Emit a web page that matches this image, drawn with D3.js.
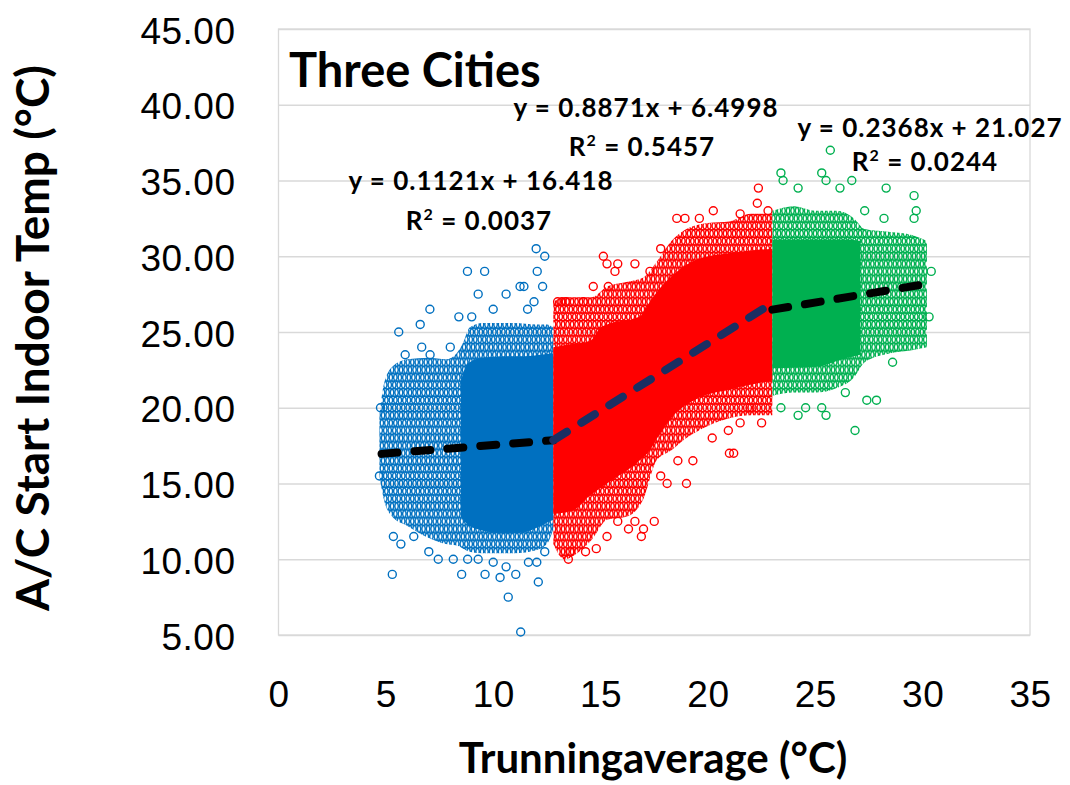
<!DOCTYPE html>
<html lang="en">
<head>
  <meta charset="UTF-8"/>
  <title>Three Cities</title>
  <script src="https://d3js.org/d3.v7.min.js"></script>
  <style>
    body { margin: 0; background: #fff; }
    svg { display: block; font-family: Lato, "Open Sans", sans-serif; }
    .grid line { stroke: #d9d9d9; stroke-width: 1.3; }
    .grid path, .axis path { display: none; }
    .axis text { fill: #000; font-size: 37px; letter-spacing: 0.5px; }
    .eq { font-weight: bold; font-size: 26px; text-anchor: middle; letter-spacing: 1px; }
    .title { font-weight: bold; }
  </style>
</head>
<body>
<svg width="1070" height="785"></svg>
<script>
  const xTicks = [0, 5, 10, 15, 20, 25, 30, 35];
  const yTicks = [5, 10, 15, 20, 25, 30, 35, 40, 45];

  // blue (cool city): textured band, solid core, loose points
  const blueHaloX  = [4.7, 4.9, 5.3, 6.0, 7.0, 7.8, 8.3, 8.6, 8.9, 9.5, 11.0, 12.0, 12.5, 12.8];
  const blueHaloLo = [15.5, 14.0, 12.8, 12.2, 11.4, 11.0, 10.9, 10.7, 10.5, 10.4, 10.4, 10.6, 11.0, 12.0];
  const blueHaloHi = [19.5, 21.5, 22.7, 23.2, 23.3, 23.2, 23.6, 24.3, 25.3, 25.6, 25.6, 25.5, 25.5, 25.3];
  const blueCoreX  = [8.5, 8.8, 9.5, 10.5, 11.5, 12.2, 12.8];
  const blueCoreLo = [12.8, 12.3, 11.9, 11.7, 11.8, 12.2, 12.6];
  const blueCoreHi = [21.8, 22.9, 23.3, 23.4, 23.4, 23.5, 23.6];
  const bluePts = [
    [12.0, 30.5], [12.4, 30.0], [8.8, 29.0], [9.6, 29.0], [12.05, 29.0], [7.05, 26.5],
    [6.6, 25.5], [5.6, 25.0], [8.4, 26.0], [9.3, 27.5], [10.6, 27.5], [11.25, 28.0],
    [11.43, 28.0], [12.3, 28.0], [6.67, 24.0], [7.06, 23.5], [5.35, 11.5], [5.7, 11.0],
    [5.3, 9.0], [8.53, 9.0], [9.62, 9.0], [10.32, 8.8], [11.05, 9.0], [12.1, 8.5],
    [10.7, 7.5], [11.28, 5.2], [7.44, 10.0], [8.14, 10.0], [8.81, 10.0], [11.64, 9.8],
    [12.03, 9.8], [4.75, 20.0], [4.7, 15.5], [5.9, 23.5], [8.0, 24.0], [9.0, 26.0],
    [10.0, 26.5], [11.6, 26.5], [11.9, 27.0], [6.3, 11.5], [7.0, 10.5], [9.3, 10.0],
    [10.0, 9.8], [10.6, 9.5], [12.4, 10.5]
  ];

  // red (mild city)
  const redHaloX  = [12.8, 13.3, 14.0, 14.6, 15.3, 16.2, 17.0, 17.6, 18.3, 19.0, 20.0, 21.0, 22.0, 23.0];
  const redHaloLo = [11.0, 10.0, 10.5, 11.3, 12.6, 12.8, 14.0, 16.5, 17.2, 18.0, 18.8, 19.3, 19.5, 19.5];
  const redHaloHi = [27.0, 27.3, 27.3, 27.3, 28.0, 28.3, 28.6, 29.6, 31.0, 31.8, 32.2, 32.3, 32.8, 32.8];
  const redCoreX  = [12.8, 13.7, 14.5, 15.0, 15.3, 16.8, 17.3, 17.6, 18.4, 19.5, 21.0, 23.0];
  const redCoreLo = [13.0, 13.2, 14.2, 14.7, 15.0, 16.5, 17.2, 17.9, 19.5, 20.6, 21.2, 21.8];
  const redCoreHi = [24.0, 24.2, 24.4, 25.3, 25.5, 26.0, 27.0, 27.6, 28.8, 29.8, 30.2, 30.5];
  const redPts = [
    [13.0, 27.0], [13.2, 27.0], [13.4, 27.0], [14.2, 27.0], [14.66, 28.0], [15.36, 28.0],
    [15.13, 30.0], [15.3, 29.5], [15.8, 29.5], [15.67, 29.0], [16.6, 29.5], [18.55, 32.5],
    [18.93, 32.5], [20.25, 33.0], [22.3, 33.5], [22.35, 34.5], [22.8, 33.0], [18.1, 15.0],
    [19.0, 15.0], [19.3, 16.5], [21.0, 17.0], [21.2, 17.0], [20.95, 18.5], [21.5, 19.0],
    [21.96, 20.0], [17.5, 12.5], [16.9, 11.5], [17.0, 12.0], [16.3, 12.0], [15.8, 12.5],
    [16.6, 12.5], [13.5, 10.0], [13.6, 10.5], [14.8, 10.7], [17.3, 29.0], [17.8, 30.5],
    [19.6, 32.5], [21.5, 32.8], [17.8, 15.5], [18.6, 16.5], [20.2, 18.0], [22.5, 19.0],
    [14.3, 10.5], [15.3, 11.5]
  ];

  // green (hot city)
  const greenHaloX  = [23.0, 24.0, 25.0, 26.0, 26.8, 27.3, 28.5, 29.5, 30.2];
  const greenHaloLo = [20.8, 21.0, 21.0, 21.3, 22.0, 23.0, 23.6, 23.8, 24.0];
  const greenHaloHi = [33.0, 33.3, 33.0, 33.0, 32.5, 31.8, 31.6, 31.4, 31.0];
  const greenCoreX  = [23.0, 25.0, 26.5, 27.1];
  const greenCoreLo = [22.6, 22.7, 23.3, 23.5];
  const greenCoreHi = [31.1, 31.1, 31.1, 31.0];
  const greenPts = [
    [23.4, 35.5], [23.5, 35.0], [25.3, 35.5], [25.5, 35.0], [26.15, 34.5], [26.7, 35.0],
    [24.2, 34.5], [25.7, 37.0], [28.3, 34.5], [29.6, 34.0], [29.7, 33.0], [29.6, 32.5],
    [30.4, 29.0], [27.4, 20.5], [27.85, 20.5], [26.85, 18.5], [24.2, 19.5], [25.3, 20.0],
    [25.5, 19.5], [23.4, 20.0], [24.55, 20.0], [27.3, 33.0], [28.2, 32.5], [30.3, 26.0],
    [28.6, 23.0], [26.4, 21.0]
  ];

  // linear trend lines shown on the chart
  const trendSlope     = [0.1121, 0.8871, 0.2368];
  const trendIntercept = [16.418, 6.4998, 21.027];
  const trendFrom      = [4.8, 12.8, 23.0];
  const trendTo        = [12.8, 23.0, 30.0];
  const trendEq = ['y = 0.1121x + 16.418', 'y = 0.8871x + 6.4998', 'y = 0.2368x + 21.027'];
  const trendR2 = ['0.0037', '0.5457', '0.0244'];

  const svg = d3.select('svg');
  const x = d3.scaleLinear().domain([0, 35]).range([278.5, 1030]);
  const y = d3.scaleLinear().domain([5, 45]).range([635, 29]);
  const plotW = x(35) - x(0);
  const markR = 4;

  const series = [
    { name: 'blue', color: '#0070C0', halo: d3.zip(blueHaloX, blueHaloLo, blueHaloHi), core: d3.zip(blueCoreX, blueCoreLo, blueCoreHi), pts: bluePts },
    { name: 'red', color: '#FF0000', halo: d3.zip(redHaloX, redHaloLo, redHaloHi), core: d3.zip(redCoreX, redCoreLo, redCoreHi), pts: redPts },
    { name: 'green', color: '#00B050', halo: d3.zip(greenHaloX, greenHaloLo, greenHaloHi), core: d3.zip(greenCoreX, greenCoreLo, greenCoreHi), pts: greenPts }
  ];

  // ring texture: markers on 0.5 degC rows, staggered along x
  const defs = svg.append('defs');
  const rowH = y(5) - y(5.5);
  const tileW = 18, tileH = rowH * 3;
  const rowOffsets = [[0.5, 5.0, 9.5, 14.0], [2.8, 7.3, 11.8, 16.3], [1.6, 6.1, 10.6, 15.1]];
  series.forEach(s => {
    const p = defs.append('pattern')
      .attr('id', 'ring-' + s.name)
      .attr('patternUnits', 'userSpaceOnUse')
      .attr('width', tileW)
      .attr('height', tileH)
      .attr('y', y(5) - rowH / 2);
    rowOffsets.forEach((row, r) => row.forEach(cx => {
      [-tileW, 0, tileW].forEach(dx => [-tileH, 0, tileH].forEach(dy => {
        p.append('circle')
          .attr('cx', cx + dx).attr('cy', rowH * (r + 0.5) + dy).attr('r', markR)
          .attr('fill', 'none').attr('stroke', s.color).attr('stroke-width', 1.5);
      }));
    }));
  });

  // gridlines + plot frame
  svg.append('g')
    .attr('class', 'grid')
    .attr('transform', `translate(${x(0)},0)`)
    .call(d3.axisLeft(y).tickValues(yTicks).tickSize(-plotW).tickFormat(''));

  svg.append('rect')
    .attr('x', x(0)).attr('y', y(45))
    .attr('width', plotW).attr('height', y(5) - y(45))
    .attr('fill', 'none').attr('stroke', '#d9d9d9').attr('stroke-width', 1.3);

  const area = d3.area()
    .curve(d3.curveMonotoneX)
    .x(d => x(d[0]))
    .y0(d => y(d[1]))
    .y1(d => y(d[2]));

  series.forEach(s => {
    const g = svg.append('g').attr('class', 'series-' + s.name);
    g.append('path').attr('d', area(s.halo)).attr('fill', `url(#ring-${s.name})`);
    g.append('path').attr('d', area(s.core)).attr('fill', s.color);
    g.selectAll('circle')
      .data(s.pts)
      .join('circle')
      .attr('cx', d => x(d[0]))
      .attr('cy', d => y(d[1]))
      .attr('r', markR)
      .attr('fill', 'none')
      .attr('stroke', s.color)
      .attr('stroke-width', 1.4);
  });

  // dashed trend lines
  const trendColor = ['#000000', '#1b2f63', '#000000'];
  trendSlope.forEach((m, i) => {
    const pts = [trendFrom[i], trendTo[i]].map(v => [v, m * v + trendIntercept[i]]);
    svg.append('path')
      .attr('d', d3.line().x(d => x(d[0])).y(d => y(d[1]))(pts))
      .attr('fill', 'none')
      .attr('stroke', trendColor[i])
      .attr('stroke-width', 8)
      .attr('stroke-linecap', 'round')
      .attr('stroke-dasharray', '16 17');
  });

  // axes labels
  svg.append('g')
    .attr('class', 'axis')
    .attr('transform', `translate(${x(0)},0)`)
    .call(d3.axisLeft(y).tickValues(yTicks).tickSize(0).tickPadding(43).tickFormat(d3.format('.2f')))
    .selectAll('text').attr('dy', '0.38em');

  svg.append('g')
    .attr('class', 'axis')
    .attr('transform', `translate(0,${y(5)})`)
    .call(d3.axisBottom(x).tickValues(xTicks).tickSize(0).tickPadding(46));

  svg.append('text')
    .attr('class', 'title')
    .attr('transform', 'translate(49,338) rotate(-90)')
    .attr('text-anchor', 'middle')
    .attr('font-size', 46)
    .text('A/C Start Indoor Temp (°C)');

  svg.append('text')
    .attr('class', 'title')
    .attr('x', 653).attr('y', 773)
    .attr('text-anchor', 'middle')
    .attr('font-size', 42)
    .text('Trunningaverage (°C)');

  svg.append('text')
    .attr('class', 'title')
    .attr('x', 289).attr('y', 87)
    .attr('font-size', 47)
    .text('Three Cities');

  // equation labels
  const eqPos = [[481, 190], [646, 117], [930, 137]];
  const r2Pos = [[479, 230], [642, 156], [925, 171]];
  trendEq.forEach((t, i) => {
    svg.append('text').attr('class', 'eq')
      .attr('x', eqPos[i][0]).attr('y', eqPos[i][1]).text(t);
    const r = svg.append('text').attr('class', 'eq')
      .attr('x', r2Pos[i][0]).attr('y', r2Pos[i][1]);
    r.append('tspan').text('R');
    r.append('tspan').attr('dy', -10).attr('font-size', 16).text('2');
    r.append('tspan').attr('dy', 10).text(' = ' + trendR2[i]);
  });
</script>
</body>
</html>
